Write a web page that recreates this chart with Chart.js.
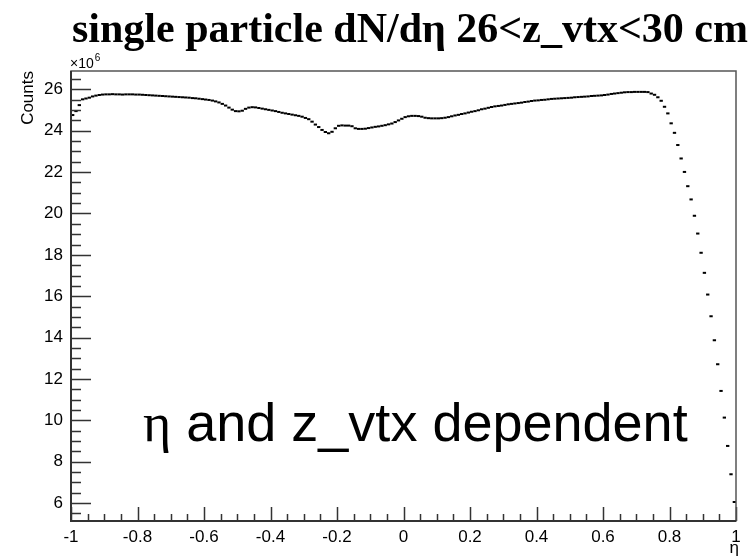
<!DOCTYPE html>
<html>
<head>
<meta charset="utf-8">
<script src="https://cdn.jsdelivr.net/npm/chart.js@4.4.1/dist/chart.umd.min.js"></script>
<style>
  body { margin: 0; background: #fff; }
</style>
</head>
<body>
<canvas id="dndeta" width="756" height="558"></canvas>
<script>
// single particle dN/deta, 26 < z_vtx < 30 cm  (counts in units of 10^6)
var etaMin = -1, etaMax = 1, binWidth = 0.01;
var yMin = 5.13, yMax = 26.89;

var counts = [
  24.76, 24.95, 25.24, 25.52, 25.56, 25.60, 25.66, 25.70, 25.73, 25.75,
  25.76, 25.76, 25.77, 25.76, 25.76, 25.75, 25.76, 25.76, 25.76, 25.75,
  25.75, 25.74, 25.73, 25.72, 25.71, 25.70, 25.69, 25.68, 25.67, 25.66,
  25.65, 25.64, 25.63, 25.62, 25.61, 25.60, 25.58, 25.57, 25.55, 25.53,
  25.51, 25.49, 25.46, 25.42, 25.37, 25.30, 25.22, 25.12, 25.02, 24.95,
  24.94, 24.97, 25.06, 25.12, 25.14, 25.13, 25.10, 25.07, 25.04, 25.01,
  24.98, 24.95, 24.91, 24.87, 24.84, 24.81, 24.78, 24.75, 24.72, 24.68,
  24.62, 24.56, 24.44, 24.30, 24.18, 24.04, 23.94, 23.88, 23.95, 24.12,
  24.24, 24.26, 24.25, 24.25, 24.22, 24.12, 24.09, 24.09, 24.10, 24.13,
  24.16, 24.19, 24.21, 24.24, 24.27, 24.31, 24.35, 24.42, 24.50, 24.58,
  24.66, 24.70, 24.72, 24.72, 24.71, 24.68, 24.63, 24.61, 24.60, 24.60,
  24.60, 24.61, 24.63, 24.66, 24.70, 24.74, 24.77, 24.81, 24.84, 24.88,
  24.92, 24.95, 24.99, 25.04, 25.07, 25.11, 25.15, 25.18, 25.20, 25.22,
  25.25, 25.28, 25.30, 25.32, 25.34, 25.36, 25.39, 25.41, 25.44, 25.46,
  25.47, 25.49, 25.50, 25.52, 25.54, 25.55, 25.56, 25.57, 25.58, 25.59,
  25.60, 25.62, 25.63, 25.64, 25.65, 25.66, 25.68, 25.69, 25.70, 25.71,
  25.73, 25.75, 25.78, 25.80, 25.82, 25.84, 25.86, 25.87, 25.87, 25.88,
  25.88, 25.88, 25.88, 25.87, 25.80, 25.74, 25.62, 25.45, 25.16, 24.84,
  24.36, 23.90, 23.31, 22.66, 22.01, 21.32, 20.68, 19.89, 19.03, 18.10,
  17.13, 16.08, 15.03, 13.87, 12.71, 11.42, 10.13,  8.76,  7.39,  6.05
];

var points = counts.map(function(c, i){
  return { x: etaMin + binWidth * (i + 0.5), y: c };
});

// ROOT-like frame: inward ticks, axis titles, exponent and annotation
var rootFrame = {
  id: 'rootFrame',
  afterDraw: function(chart){
    var ctx = chart.ctx, a = chart.chartArea;
    var xs = chart.scales.x, ys = chart.scales.y;
    ctx.save();

    // ticks
    ctx.strokeStyle = '#333';
    ctx.lineWidth = 1.5;
    ctx.beginPath();
    for (var k = 0; k <= 40; k++) {
      var px = Math.round(xs.getPixelForValue(etaMin + k * 0.05)) + 0.5;
      var len = (k % 4 === 0) ? 14 : 7;
      ctx.moveTo(px, a.bottom);
      ctx.lineTo(px, a.bottom - len);
    }
    for (var j = 11; j <= 53; j++) {
      var py = Math.round(ys.getPixelForValue(j * 0.5)) + 0.5;
      var ylen = (j % 4 === 0) ? 20 : 10;
      ctx.moveTo(a.left, py);
      ctx.lineTo(a.left + ylen, py);
    }
    ctx.stroke();

    // frame
    ctx.strokeStyle = '#555';
    ctx.lineWidth = 1.5;
    ctx.strokeRect(a.left, a.top, a.right - a.left, a.bottom - a.top);
    ctx.strokeStyle = '#333';
    ctx.lineWidth = 2;
    ctx.beginPath();
    ctx.moveTo(a.left, a.top);
    ctx.lineTo(a.left, a.bottom);
    ctx.lineTo(a.right, a.bottom);
    ctx.stroke();

    ctx.fillStyle = '#000';

    // title
    ctx.font = 'bold 42px "Liberation Serif", "Times New Roman", serif';
    ctx.textAlign = 'left';
    ctx.textBaseline = 'alphabetic';
    ctx.fillText('single particle dN/d\u03b7 26<z_vtx<30 cm', 72, 42);

    // exponent
    ctx.font = '14px "Liberation Sans", Arial, sans-serif';
    ctx.fillText('\u00d710', a.left - 1, 68);
    var ew = ctx.measureText('\u00d710').width;
    ctx.font = '10px "Liberation Sans", Arial, sans-serif';
    ctx.fillText('6', a.left + ew, 61);

    // y title
    ctx.save();
    ctx.translate(33, a.top);
    ctx.rotate(-Math.PI / 2);
    ctx.font = '17px "Liberation Sans", Arial, sans-serif';
    ctx.textAlign = 'right';
    ctx.fillText('Counts', 0, 0);
    ctx.restore();

    // x title
    ctx.font = '17px "Liberation Sans", Arial, sans-serif';
    ctx.textAlign = 'right';
    ctx.fillText('\u03b7', a.right + 3, 553);

    // annotation
    ctx.textAlign = 'left';
    ctx.font = '54px "Liberation Serif", serif';
    ctx.fillText('\u03b7', 143, 441);
    var w = ctx.measureText('\u03b7').width;
    ctx.font = '54px "Liberation Sans", Arial, sans-serif';
    ctx.fillText(' and z_vtx dependent', 143 + w, 441);

    ctx.restore();
  }
};

new Chart(document.getElementById('dndeta'), {
  type: 'scatter',
  data: {
    datasets: [{
      label: 'dN/deta',
      data: points,
      showLine: false,
      pointStyle: 'line',
      borderColor: '#000',
      backgroundColor: '#000',
      borderWidth: 2,
      pointRadius: function(c){
        var s = c.chart.scales.x;
        if (!s) return 1.6;
        return (s.getPixelForValue(binWidth) - s.getPixelForValue(0)) / 2;
      },
      pointHoverRadius: 0
    }]
  },
  options: {
    responsive: false,
    animation: false,
    devicePixelRatio: 1,
    events: [],
    layout: { padding: { left: 0, right: 20, top: 71, bottom: 0 } },
    plugins: { legend: { display: false }, tooltip: { enabled: false } },
    scales: {
      x: {
        type: 'linear',
        min: etaMin, max: etaMax,
        grid: { display: false, drawTicks: false },
        border: { display: false },
        afterFit: function(s){ s.height = 37; },
        ticks: {
          stepSize: 0.2,
          includeBounds: false,
          padding: 6,
          maxRotation: 0,
          autoSkip: false,
          color: '#000',
          font: { family: '"Liberation Sans", Arial, sans-serif', size: 17 },
          callback: function(v){ return String(Math.round(v * 10) / 10); }
        }
      },
      y: {
        type: 'linear',
        min: yMin, max: yMax,
        grid: { display: false, drawTicks: false },
        border: { display: false },
        afterFit: function(s){ s.width = 71; },
        ticks: {
          stepSize: 2,
          includeBounds: false,
          padding: 8,
          color: '#000',
          font: { family: '"Liberation Sans", Arial, sans-serif', size: 17 },
          callback: function(v){ return String(Math.round(v)); }
        }
      }
    }
  },
  plugins: [rootFrame]
});
</script>
</body>
</html>
